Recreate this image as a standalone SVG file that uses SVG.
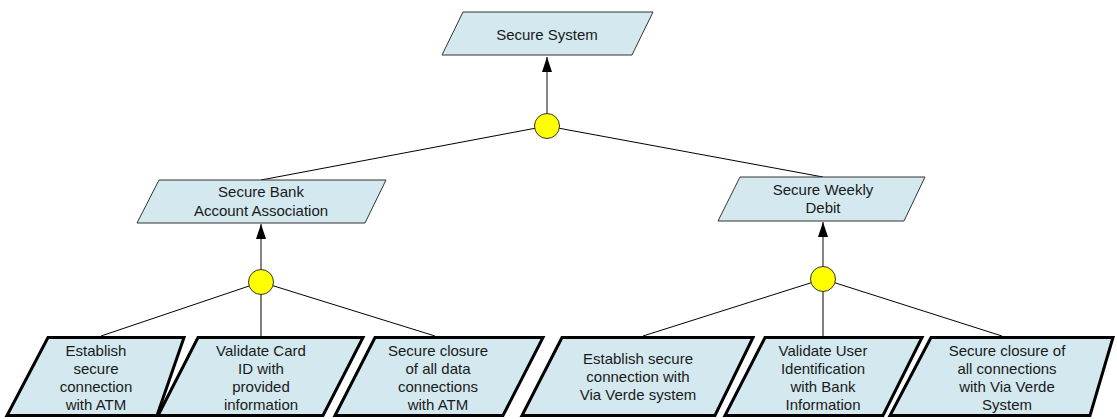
<svg xmlns="http://www.w3.org/2000/svg" width="1117" height="419" viewBox="0 0 1117 419">
  <style>
    .goal { fill: #d3e9ef; stroke: #333333; stroke-width: 1; }
    .leaf { fill: #d3e9ef; stroke: #000000; stroke-width: 3; stroke-linejoin: miter; }
    .and { fill: #ffff00; stroke: #333333; stroke-width: 1; }
    .link { stroke: #000000; stroke-width: 1; fill: none; }
    .up { stroke: #333333; stroke-width: 1.2; fill: none; marker-end: url(#arrow); }
    text { font-family: "Liberation Sans", Arial, sans-serif; font-size: 15px; fill: #1a1a1a; text-anchor: middle; }
  </style>
  <defs>
    <!-- filled arrowhead pointing along the line, tip on the end point -->
    <marker id="arrow" viewBox="0 0 15 10" refX="15" refY="5" markerWidth="15" markerHeight="10" markerUnits="userSpaceOnUse" orient="auto">
      <path d="M0,0 L15,5 L0,10 Z" fill="#000000"/>
    </marker>
  </defs>

  <!-- connectors -->
  <g id="connectors">
    <!-- top refinement -->
    <line class="link" x1="547" y1="126" x2="261" y2="180"/>
    <line class="link" x1="547" y1="126" x2="823" y2="177"/>
    <line class="up" x1="547" y1="114" x2="547" y2="57"/>
    <!-- bank association refinement -->
    <line class="link" x1="261" y1="282" x2="101" y2="336"/>
    <line class="link" x1="261" y1="282" x2="261" y2="336"/>
    <line class="link" x1="261" y1="282" x2="435" y2="336"/>
    <line class="up" x1="261" y1="270" x2="261" y2="224"/>
    <!-- weekly debit refinement -->
    <line class="link" x1="823" y1="279" x2="643" y2="336"/>
    <line class="link" x1="823" y1="279" x2="823" y2="336"/>
    <line class="link" x1="823" y1="279" x2="1002" y2="336"/>
    <line class="up" x1="823" y1="267" x2="823" y2="222"/>
  </g>

  <!-- AND decompositions -->
  <g id="and-top"><circle class="and" cx="547" cy="126" r="12.5"/></g>
  <g id="and-bank"><circle class="and" cx="261" cy="282" r="12.5"/></g>
  <g id="and-debit"><circle class="and" cx="823" cy="279" r="12.5"/></g>

  <!-- goals -->
  <g id="secure-system">
    <polygon class="goal" points="463,12 653,12 632,55 442,55"/>
    <text x="547" y="39.5">Secure System</text>
  </g>
  <g id="secure-bank">
    <polygon class="goal" points="159,180 386,180 365,223 137,223"/>
    <text x="261" y="197">Secure Bank</text>
    <text x="261" y="215.5">Account Association</text>
  </g>
  <g id="secure-debit">
    <polygon class="goal" points="740,177 925,177 904,221 718,221"/>
    <text x="823" y="194.5">Secure Weekly</text>
    <text x="823" y="213">Debit</text>
  </g>

  <!-- leaf requirements -->
  <g id="atm-connect">
    <polygon class="leaf" points="48,337.5 184,337.5 157,415.5 7,415.5"/>
    <text x="96" y="355.5">Establish</text>
    <text x="96" y="373.8">secure</text>
    <text x="96" y="392.1">connection</text>
    <text x="96" y="410.4">with ATM</text>
  </g>
  <g id="card-validate">
    <polygon class="leaf" points="198,337.5 363,337.5 323,415.5 158,415.5"/>
    <text x="261" y="355.5">Validate Card</text>
    <text x="261" y="373.8">ID with</text>
    <text x="261" y="392.1">provided</text>
    <text x="261" y="410.4">information</text>
  </g>
  <g id="atm-close">
    <polygon class="leaf" points="375,337.5 543,337.5 503,415.5 335,415.5"/>
    <text x="438" y="355.5">Secure closure</text>
    <text x="438" y="373.8">of all data</text>
    <text x="438" y="392.1">connections</text>
    <text x="438" y="410.4">with ATM</text>
  </g>
  <g id="viaverde-connect">
    <polygon class="leaf" points="562,337.5 753,337.5 715,415.5 522,415.5"/>
    <text x="638" y="363.5">Establish secure</text>
    <text x="638" y="381.8">connection with</text>
    <text x="638" y="400.1">Via Verde system</text>
  </g>
  <g id="user-validate">
    <polygon class="leaf" points="765,337.5 922,337.5 883,415.5 725,415.5"/>
    <text x="823" y="355.5">Validate User</text>
    <text x="823" y="373.8">Identification</text>
    <text x="823" y="392.1">with Bank</text>
    <text x="823" y="410.4">Information</text>
  </g>
  <g id="viaverde-close">
    <polygon class="leaf" points="931,337.5 1113,337.5 1090,415.5 890,415.5"/>
    <text x="1007" y="355.5">Secure closure of</text>
    <text x="1007" y="373.8">all connections</text>
    <text x="1007" y="392.1">with Via Verde</text>
    <text x="1007" y="410.4">System</text>
  </g>
</svg>
